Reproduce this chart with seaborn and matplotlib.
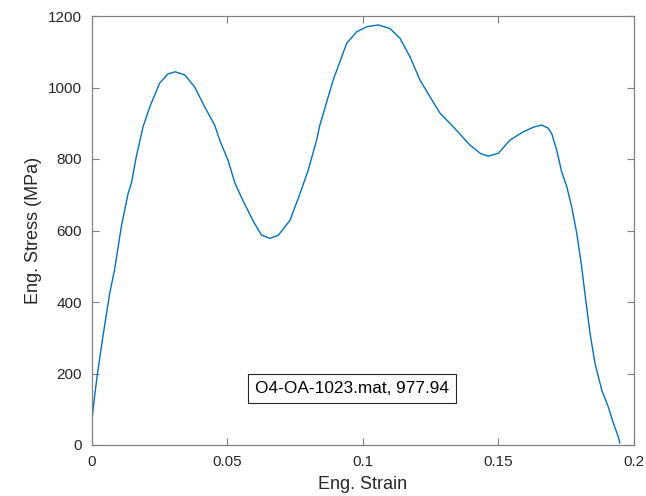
import matplotlib
matplotlib.use("Agg")
import matplotlib.pyplot as plt
import seaborn as sns
import pandas as pd

strain = [0, 0.0003, 0.0012, 0.0022, 0.0042, 0.0067, 0.0085, 0.011, 0.0135, 0.0147,
          0.0165, 0.019, 0.0215, 0.0251, 0.0282, 0.0309, 0.0344, 0.038, 0.0417, 0.0454,
          0.0474, 0.0503, 0.0529, 0.056, 0.0597, 0.0627, 0.0658, 0.0689, 0.0732, 0.0769,
          0.0799, 0.083, 0.0842, 0.0891, 0.0941, 0.0978, 0.1015, 0.1057, 0.11, 0.1137,
          0.1174, 0.1211, 0.1248, 0.1285, 0.1334, 0.1395, 0.1435, 0.1463, 0.15, 0.1543,
          0.1592, 0.1629, 0.166, 0.1684, 0.1697, 0.1715, 0.1733, 0.1752, 0.177, 0.1789,
          0.1807, 0.1819, 0.1838, 0.1856, 0.1881, 0.1905, 0.1924, 0.1942, 0.1948]
stress = [42, 79, 140, 200, 303, 424, 490, 611, 704, 732,
          806, 890, 946, 1012, 1038, 1044, 1035, 1002, 946, 895,
          850, 797, 732, 681, 625, 587, 578, 587, 629, 704,
          769, 853, 895, 1021, 1124, 1156, 1170, 1175, 1165, 1138,
          1086, 1021, 974, 928, 890, 839, 815, 808, 816, 853,
          876, 889, 895, 886, 870, 825, 765, 723, 667, 592,
          499, 424, 312, 229, 154, 107, 61, 23, 5]

xticks = [0, 0.05, 0.1, 0.15, 0.2]
xticklabels = ["0", "0.05", "0.1", "0.15", "0.2"]
yticks = [0, 200, 400, 600, 800, 1000, 1200]
annotation = "O4-OA-1023.mat, 977.94"

sns.set_style("white")
plt.rcParams['font.family'] = ['Liberation Sans', 'DejaVu Sans']

df = pd.DataFrame({"strain": strain, "stress": stress})

fig = plt.figure(figsize=(6.46, 4.96), dpi=100)
ax = fig.add_axes([91.5/646, 1 - 445/496, (634 - 91.5)/646, (445 - 16)/496])
sns.lineplot(data=df, x="strain", y="stress", ax=ax, color="#0072BD",
             linewidth=1.0, sort=False, estimator=None)

ax.set_xlim(0, 0.2)
ax.set_ylim(0, 1200)
ax.set_xticks(xticks)
ax.set_xticklabels(xticklabels)
ax.set_yticks(yticks)
ax.set_xlabel("Eng. Strain", fontsize=13, color="#262626", labelpad=5)
ax.set_ylabel("Eng. Stress (MPa)", fontsize=13, color="#262626", labelpad=4)
ax.tick_params(direction="in", length=5, width=0.8, color="#808080",
               labelsize=11, labelcolor="#262626", top=True, right=True,
               bottom=True, left=True, pad=7)
for s in ax.spines.values():
    s.set_visible(True)
    s.set_color("#808080")
    s.set_linewidth(0.9)

ax.text(0.48, 0.132, annotation, transform=ax.transAxes, ha="center", va="center",
        fontsize=12.4, color="#000000",
        bbox=dict(boxstyle="square,pad=0.42", facecolor="white", edgecolor="#262626",
                  linewidth=0.8))

fig.savefig("out.png", dpi=100)
